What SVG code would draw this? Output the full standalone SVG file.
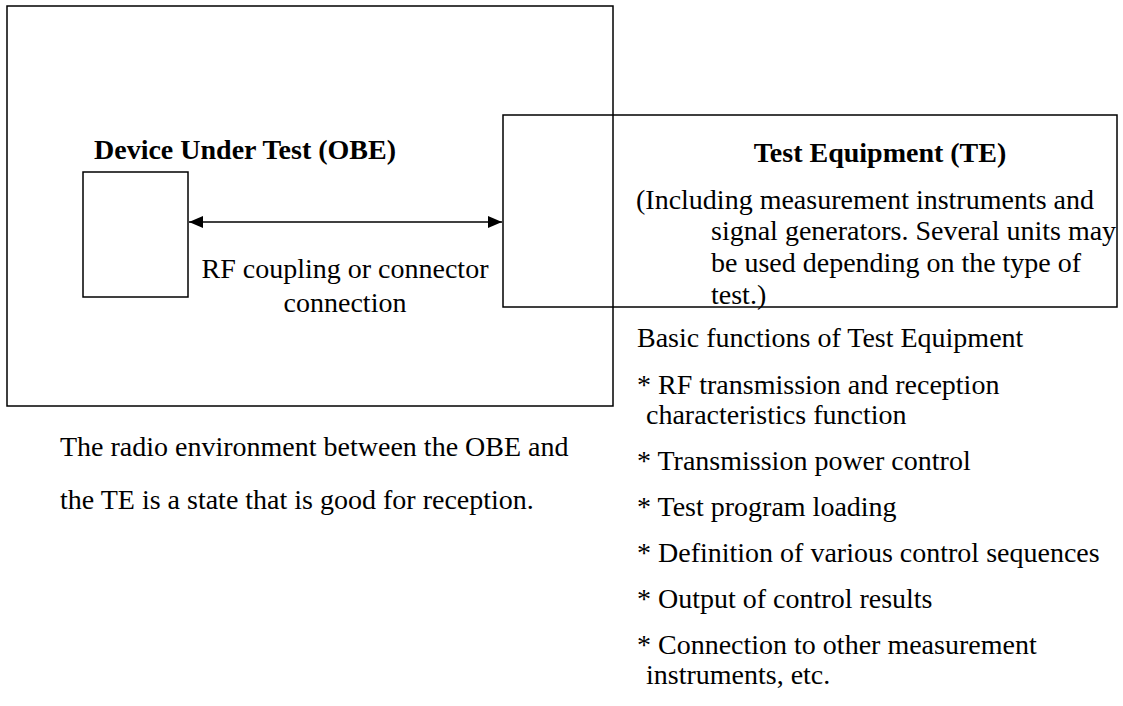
<svg xmlns="http://www.w3.org/2000/svg" width="1123" height="706" viewBox="0 0 1123 706">
<defs>
<style>
.box{fill:none;stroke:#000;stroke-width:1.5}
.t{font-family:'Times New Roman','Liberation Serif',Tinos,serif;font-size:28px;fill:#000}
.b{font-weight:bold}
</style>
<marker id="ah" viewBox="0 0 14 12" refX="14" refY="6" markerWidth="14" markerHeight="12" markerUnits="userSpaceOnUse" orient="auto-start-reverse">
<path d="M0,0 L14,6 L0,12 Z" fill="#000"/>
</marker>
</defs>
<rect width="1123" height="706" fill="#fff"/>
<g id="environment">
<rect class="box" x="7" y="6" width="606" height="400"/>
<text class="t" x="60" y="456">The radio environment between the OBE and</text>
<text class="t" x="60" y="509">the TE is a state that is good for reception.</text>
</g>
<g id="obe">
<text class="t b" x="94" y="159">Device Under Test (OBE)</text>
<rect class="box" x="83" y="172" width="105" height="125"/>
</g>
<g id="te">
<rect class="box" x="503" y="115" width="614" height="192"/>
<text class="t b" x="880" y="162" text-anchor="middle">Test Equipment (TE)</text>
<text class="t" x="636" y="209">(Including measurement instruments and</text>
<text class="t" x="711" y="240">signal generators. Several units may</text>
<text class="t" x="711" y="272">be used depending on the type of</text>
<text class="t" x="711" y="304">test.)</text>
</g>
<g id="functions">
<text class="t" x="637" y="347">Basic functions of Test Equipment</text>
<text class="t" x="637" y="394">* RF transmission and reception</text>
<text class="t" x="646" y="424">characteristics function</text>
<text class="t" x="637" y="470">* Transmission power control</text>
<text class="t" x="637" y="516">* Test program loading</text>
<text class="t" x="637" y="562">* Definition of various control sequences</text>
<text class="t" x="637" y="608">* Output of control results</text>
<text class="t" x="637" y="654">* Connection to other measurement</text>
<text class="t" x="646" y="684">instruments, etc.</text>
</g>
<g id="connectors">
<line x1="189" y1="222" x2="502" y2="222" stroke="#000" stroke-width="1.5" marker-start="url(#ah)" marker-end="url(#ah)"/>
<text class="t" x="345" y="278" text-anchor="middle">RF coupling or connector</text>
<text class="t" x="345" y="312" text-anchor="middle">connection</text>
</g>
</svg>
